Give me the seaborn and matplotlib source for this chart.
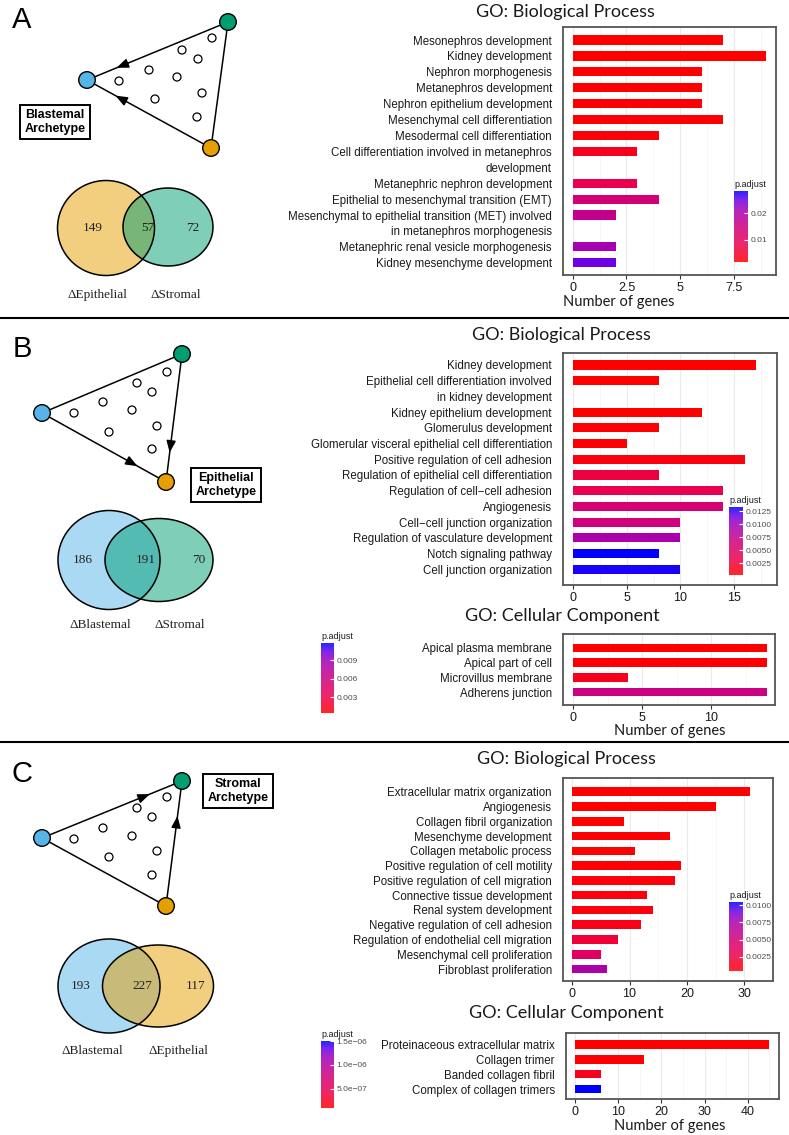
import numpy as np
import pandas as pd
import seaborn as sns
import matplotlib.pyplot as plt
from matplotlib.patches import Ellipse, Circle
from matplotlib.colors import LinearSegmentedColormap, Normalize
from matplotlib.cm import ScalarMappable

# ---------------- data ----------------
# panel A (blastemal archetype), GO biological process
a_bp_terms = ["Mesonephros development", "Kidney development", "Nephron morphogenesis",
              "Metanephros development", "Nephron epithelium development",
              "Mesenchymal cell differentiation", "Mesodermal cell differentiation",
              "Cell differentiation involved in metanephros\ndevelopment",
              "Metanephric nephron development", "Epithelial to mesenchymal transition (EMT)",
              "Mesenchymal to epithelial transition (MET) involved\nin metanephros morphogenesis",
              "Metanephric renal vesicle morphogenesis", "Kidney mesenchyme development"]
a_bp_genes = [7, 9, 6, 6, 6, 7, 4, 3, 3, 4, 2, 2, 2]
a_bp_padj = [0.0016, 0.0016, 0.0018, 0.0018, 0.0019, 0.0020, 0.0026, 0.0043,
             0.0083, 0.0136, 0.0163, 0.0208, 0.0248]
a_bp_lim = (0.0016, 0.0283)

# panel B (epithelial archetype), GO biological process
b_bp_terms = ["Kidney development",
              "Epithelial cell differentiation involved\nin kidney development",
              "Kidney epithelium development", "Glomerulus development",
              "Glomerular visceral epithelial cell differentiation",
              "Positive regulation of cell adhesion",
              "Regulation of epithelial cell differentiation",
              "Regulation of cell\u2212cell adhesion", "Angiogenesis",
              "Cell\u2212cell junction organization", "Regulation of vasculature development",
              "Notch signaling pathway", "Cell junction organization"]
b_bp_genes = [17, 8, 12, 8, 5, 16, 8, 14, 14, 10, 10, 8, 10]
b_bp_padj = [0.0003, 0.0004, 0.0004, 0.0005, 0.0005, 0.0009, 0.0029, 0.0036,
             0.0058, 0.0065, 0.0094, 0.0133, 0.0129]
b_bp_lim = (0.0003, 0.0133)

# panel B, GO cellular component
b_cc_terms = ["Apical plasma membrane", "Apical part of cell", "Microvillus membrane",
              "Adherens junction"]
b_cc_genes = [14, 14, 4, 14]
b_cc_padj = [0.0004, 0.0005, 0.0015, 0.0061]
b_cc_lim = (0.0004, 0.0118)

# panel C (stromal archetype), GO biological process
c_bp_terms = ["Extracellular matrix organization", "Angiogenesis", "Collagen fibril organization",
              "Mesenchyme development", "Collagen metabolic process",
              "Positive regulation of cell motility", "Positive regulation of cell migration",
              "Connective tissue development", "Renal system development",
              "Negative regulation of cell adhesion", "Regulation of endothelial cell migration",
              "Mesenchymal cell proliferation", "Fibroblast proliferation"]
c_bp_genes = [31, 25, 9, 17, 11, 19, 18, 13, 14, 12, 8, 5, 6]
c_bp_padj = [0.0004, 0.0004, 0.0004, 0.0005, 0.0005, 0.0006, 0.0007, 0.0008,
             0.0009, 0.0012, 0.0022, 0.0039, 0.0073]
c_bp_lim = (0.0004, 0.0105)

# panel C, GO cellular component
c_cc_terms = ["Proteinaceous extracellular matrix", "Collagen trimer", "Banded collagen fibril",
              "Complex of collagen trimers"]
c_cc_genes = [45, 16, 6, 6]
c_cc_padj = [1.0e-7, 1.2e-7, 2.4e-7, 1.5e-6]
c_cc_lim = (1.0e-7, 1.5e-6)

# venn counts: (left only, shared, right only) and set names
venn_a = (149, 57, 72)
venn_a_names = ("\u0394Epithelial", "\u0394Stromal")
venn_b = (186, 191, 70)
venn_b_names = ("\u0394Blastemal", "\u0394Stromal")
venn_c = (193, 227, 117)
venn_c_names = ("\u0394Blastemal", "\u0394Epithelial")

# ---------------- setup ----------------
W, H = 789, 1135
plt.rcParams['font.family'] = ['Liberation Sans', 'DejaVu Sans']
BLUE, GREEN, ORANGE = "#56B4E9", "#009E73", "#E69F00"
cmap = LinearSegmentedColormap.from_list(
    "padj", [(0, "#FF0000"), (0.25, "#EA0050"), (0.5, "#CC0080"),
             (0.75, "#A000B8"), (0.88, "#6A00E6"), (1, "#0000FF")])

fig = plt.figure(figsize=(W / 100, H / 100), dpi=100)


def px_rect(l, t, r, b):
    return [l / W, 1 - b / H, (r - l) / W, (b - t) / H]


# overlay axes in pixel coordinates for the schematic parts
ov = fig.add_axes([0, 0, 1, 1])
ov.set_xlim(0, W)
ov.set_ylim(H, 0)
ov.axis('off')


def triangle(blue, green, orange, inner, arrows):
    pts = {"b": blue, "g": green, "o": orange}
    for p, q in [(blue, green), (green, orange), (orange, blue)]:
        ov.plot([p[0], q[0]], [p[1], q[1]], color='black', lw=1.1, zorder=2)
    for src, dst, t in arrows:
        p, q = np.array(pts[src]), np.array(pts[dst])
        tip = p + t * (q - p)
        tail = p + (t - 0.08) * (q - p)
        ov.annotate("", xy=tip, xytext=tail,
                    arrowprops=dict(arrowstyle='-|>,head_length=0.7,head_width=0.28',
                                    color='black', lw=1.1, shrinkA=0, shrinkB=0), zorder=3)
    for (x, y) in inner:
        ov.add_patch(Circle((x, y), 4.0, fc='white', ec='black', lw=0.9, zorder=3))
    for c, col in [(blue, BLUE), (green, GREEN), (orange, ORANGE)]:
        ov.add_patch(Circle(c, 8.3, fc=col, ec='black', lw=1.0, zorder=4))


def venn(e1, e2, c1, c2, counts, names, label_y, xs):
    for (cx, cy, w, h), col in [(e1, c1), (e2, c2)]:
        ov.add_patch(Ellipse((cx, cy), w, h, fc=col, alpha=0.5, ec='none', zorder=2))
    for (cx, cy, w, h) in (e1, e2):
        ov.add_patch(Ellipse((cx, cy), w, h, fill=False, ec='black', lw=1.1, zorder=3))
    for x, n in zip(xs[:3], counts):
        ov.text(x, e1[1], str(n), ha='center', va='center', fontsize=9.5,
                family='Liberation Serif', color='#222222', zorder=4)
    for x, n in zip(xs[3:], names):
        ov.text(x, label_y, n, ha='center', va='center', fontsize=9.5,
                family='Liberation Serif', color='#222222')


def archetype_box(x, y, txt):
    ov.text(x, y, txt, ha='center', va='center', fontsize=9, fontweight='bold',
            linespacing=1.15,
            bbox=dict(boxstyle='square,pad=0.35', fc='white', ec='black', lw=1.4))


# panel A schematic
ov.text(22, 20, "A", fontsize=21, ha='center', va='center')
triangle((87, 80), (228, 22), (211, 148),
         [(212, 38), (182, 50), (198, 59), (149, 70), (177, 77), (119, 81),
          (202, 93), (155, 99), (197, 117)],
         [("g", "b", 0.79), ("o", "b", 0.77)])
archetype_box(55, 122, "Blastemal\nArchetype")
venn((106, 228, 97, 95), (168, 227, 90, 78), ORANGE, GREEN, venn_a, venn_a_names, 295,
     (93, 148, 193, 97, 176))

# panel B schematic
ov.text(22, 349, "B", fontsize=21, ha='center', va='center')
triangle((42, 413), (182, 354), (166, 482),
         [(167, 372), (137, 383), (152, 392), (103, 402), (132, 410), (74, 413),
          (157, 426), (109, 432), (152, 449)],
         [("b", "o", 0.77), ("g", "o", 0.77)])
archetype_box(226, 485, "Epithelial\nArchetype")
venn((109, 560, 102, 99), (159, 560, 108, 83), BLUE, GREEN, venn_b, venn_b_names, 625,
     (83, 146, 199, 100, 180))

# panel C schematic
ov.text(22, 774, "C", fontsize=21, ha='center', va='center')
triangle((42, 838), (182, 781), (166, 906),
         [(167, 797), (137, 808), (152, 817), (103, 828), (132, 836), (74, 839),
          (157, 851), (109, 857), (152, 875)],
         [("b", "g", 0.77), ("o", "g", 0.72)])
archetype_box(238, 791, "Stromal\nArchetype")
venn((109, 986, 102, 94), (158, 986, 111, 82), BLUE, ORANGE, venn_c, venn_c_names, 1051,
     (81, 142, 196, 92, 178))

# separators
for y in (318, 742):
    ov.plot([0, W], [y, y], color='black', lw=1.5)

# section titles and axis labels
for x, y, txt in [(565, 12, "GO: Biological Process"), (561, 335, "GO: Biological Process"),
                  (562, 616, "GO: Cellular Component"), (566, 759, "GO: Biological Process"),
                  (566, 1013, "GO: Cellular Component")]:
    ov.text(x, y, txt, ha='center', va='center', fontsize=13, family='Lato', color='#1a1a1a')
for x, y in [(619, 302), (670, 731), (670, 1126)]:
    ov.text(x, y, "Number of genes", ha='center', va='center', fontsize=10.5,
            family='Lato', color='#1a1a1a')


def go_bar(rect, terms, genes, padj, lim, xlim, xticks, xlabels, ypad):
    ax = fig.add_axes(px_rect(*rect))
    order, labels = [], []
    for t in terms:
        parts = t.split("\n")
        order.append(t)
        labels.append(parts[0])
        if len(parts) > 1:
            order.append(t + " (cont)")
            labels.append(parts[1])
    norm = Normalize(*lim)
    pal = {t: cmap(norm(p)) for t, p in zip(terms, padj)}
    df = pd.DataFrame({"term": terms, "genes": genes})
    sns.barplot(data=df, x="genes", y="term", hue="term", palette=pal, order=order,
                hue_order=terms, width=0.58, saturation=1, errorbar=None,
                legend=False, ax=ax, zorder=3)
    ax.set_yticks(range(len(order)))
    ax.set_yticklabels(labels)
    ax.set_ylim(len(order) - 1 + ypad[1], ypad[0])
    ax.set_xlim(*xlim)
    ax.set_xticks(xticks)
    ax.set_xticklabels(xlabels)
    minor = [(a + b) / 2 for a, b in zip(xticks[:-1], xticks[1:])]
    minor.append(xticks[-1] + (xticks[1] - xticks[0]) / 2)
    ax.set_xticks(minor, minor=True)
    ax.grid(axis='x', which='major', color='#EBEBEB', lw=0.8, zorder=0)
    ax.grid(axis='x', which='minor', color='#F4F4F4', lw=0.5, zorder=0)
    ax.set_axisbelow(True)
    ax.set_xlabel("")
    ax.set_ylabel("")
    for s in ax.spines.values():
        s.set_color('#555555')
        s.set_linewidth(1.3)
    ax.tick_params(axis='y', length=0, pad=8, labelsize=8.3, labelcolor='#1a1a1a')
    ax.tick_params(axis='x', which='major', length=3, color='#333333', width=0.8,
                   labelsize=9, labelcolor='#1a1a1a', pad=2)
    ax.tick_params(axis='x', which='minor', length=0)
    return ax


def padj_bar(rect, lim, ticks, labels):
    cax = fig.add_axes(px_rect(*rect))
    cb = fig.colorbar(ScalarMappable(Normalize(*lim), cmap), cax=cax)
    cb.outline.set_visible(False)
    cb.solids.set_alpha(0.85)
    cb.set_ticks(ticks, labels=labels)
    cax.tick_params(length=3, color='white', width=0.8, direction='in',
                    labelsize=6, labelcolor='#4d4d4d', pad=2)
    cax.set_title("p.adjust", fontsize=6.5, loc='left', pad=3, color='#1a1a1a')


go_bar((563, 27, 776, 275), a_bp_terms, a_bp_genes, a_bp_padj, a_bp_lim,
       (-0.45, 9.45), [0, 2.5, 5, 7.5], ["0", "2.5", "5", "7.5"], (-0.82, 0.77))
padj_bar((734, 191, 748, 262), a_bp_lim, [0.01, 0.02], ["0.01", "0.02"])

go_bar((563, 353, 777, 585), b_bp_terms, b_bp_genes, b_bp_padj, b_bp_lim,
       (-0.93, 19.0), [0, 5, 10, 15], ["0", "5", "10", "15"], (-0.76, 1.0))
padj_bar((729, 507, 743, 575), b_bp_lim, [0.0025, 0.005, 0.0075, 0.01, 0.0125],
         ["0.0025", "0.0050", "0.0075", "0.0100", "0.0125"])

go_bar((563, 634, 775, 705), b_cc_terms, b_cc_genes, b_cc_padj, b_cc_lim,
       (-0.72, 14.6), [0, 5, 10], ["0", "5", "10"], (-0.95, 0.88))
padj_bar((321, 643, 334, 713), b_cc_lim, [0.003, 0.006, 0.009], ["0.003", "0.006", "0.009"])

go_bar((563, 778, 773, 981), c_bp_terms, c_bp_genes, c_bp_padj, c_bp_lim,
       (-1.6, 32.1), [0, 10, 20, 30], ["0", "10", "20", "30"], (-0.93, 0.81))
padj_bar((729, 902, 743, 971), c_bp_lim, [0.0025, 0.005, 0.0075, 0.01],
         ["0.0025", "0.0050", "0.0075", "0.0100"])

go_bar((566, 1033, 779, 1099), c_cc_terms, c_cc_genes, c_cc_padj, c_cc_lim,
       (-2.1, 47.2), [0, 10, 20, 30, 40], ["0", "10", "20", "30", "40"], (-0.76, 0.67))
padj_bar((321, 1041, 334, 1108), c_cc_lim, [5e-7, 1e-6, 1.5e-6],
         ["5.0e\u221207", "1.0e\u221206", "1.5e\u221206"])

fig.savefig("out.png", dpi=100)
